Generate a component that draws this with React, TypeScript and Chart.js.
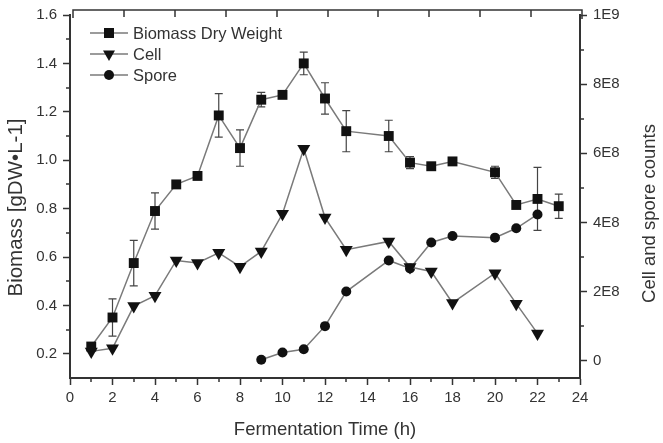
import React, { useEffect, useRef } from 'react';
import { Chart, registerables } from 'chart.js';

Chart.register(...registerables);

// ---------- data ----------
const biomassHours = [1, 2, 3, 4, 5, 6, 7, 8, 9, 10, 11, 12, 13, 15, 16, 17, 18, 20, 21, 22, 23];
const biomass = [0.23, 0.35, 0.575, 0.79, 0.9, 0.935, 1.185, 1.05, 1.25, 1.27, 1.4, 1.255, 1.12, 1.1, 0.99, 0.975, 0.995, 0.95, 0.815, 0.84, 0.81];
const biomassErr = [0.015, 0.077, 0.094, 0.075, 0.012, 0.012, 0.09, 0.075, 0.03, 0, 0.047, 0.065, 0.085, 0.065, 0.025, 0.01, 0.015, 0.025, 0.012, 0.13, 0.05];

const cellHours = [1, 2, 3, 4, 5, 6, 7, 8, 9, 10, 11, 12, 13, 15, 16, 17, 18, 20, 21, 22];
const cell = [2.7e7, 3.6e7, 1.58e8, 1.88e8, 2.9e8, 2.83e8, 3.12e8, 2.72e8, 3.16e8, 4.25e8, 6.13e8, 4.14e8, 3.21e8, 3.45e8, 2.71e8, 2.58e8, 1.67e8, 2.53e8, 1.65e8, 7.9e7];

const sporeHours = [9, 10, 11, 12, 13, 15, 16, 17, 18, 20, 21, 22];
const spore = [3e6, 2.4e7, 3.3e7, 1.0e8, 2.0e8, 2.9e8, 2.67e8, 3.42e8, 3.61e8, 3.56e8, 3.83e8, 4.23e8];

const seriesLabels = ['Biomass Dry Weight', 'Cell', 'Spore'];

const xTicks = [0, 2, 4, 6, 8, 10, 12, 14, 16, 18, 20, 22, 24];
const xMinorTicks = [1, 3, 5, 7, 9, 11, 13, 15, 17, 19, 21, 23];
const leftTicks = [0.2, 0.4, 0.6, 0.8, 1.0, 1.2, 1.4, 1.6];
const leftMinorTicks = [0.3, 0.5, 0.7, 0.9, 1.1, 1.3, 1.5];
const rightTicks = [0, 2e8, 4e8, 6e8, 8e8, 1e9];
const rightTickLabels = ['0', '2E8', '4E8', '6E8', '8E8', '1E9'];
const rightMinorTicks = [1e8, 3e8, 5e8, 7e8, 9e8];

const xTitle = 'Fermentation Time (h)';
const leftTitle = 'Biomass [gDW\u2022L-1]';
const rightTitle = 'Cell and spore counts';

// ---------- styles ----------
const FONT = 'Arial, "Liberation Sans", sans-serif';
const TEXT = '#333333';
const AXIS = '#333333';
const LINE = '#7a7a7a';
const MARK = '#111111';

function drawMarker(ctx: CanvasRenderingContext2D, kind: string, x: number, y: number) {
  ctx.beginPath();
  if (kind === 'rect') {
    ctx.rect(x - 5, y - 5, 10, 10);
  } else if (kind === 'triangle') {
    ctx.moveTo(x - 6, y - 3.5);
    ctx.lineTo(x + 6, y - 3.5);
    ctx.lineTo(x, y + 7);
    ctx.closePath();
  } else {
    ctx.arc(x, y, 5, 0, Math.PI * 2);
  }
  ctx.fill();
}

const decorPlugin = {
  id: 'decor',
  beforeDatasetsDraw(chart: any) {
    const { ctx } = chart;
    const xs = chart.scales.x;
    const ys = chart.scales.y;
    ctx.save();
    ctx.strokeStyle = '#444444';
    ctx.lineWidth = 1.2;
    biomassHours.forEach((h, i) => {
      const e = biomassErr[i];
      if (!e) return;
      const px = xs.getPixelForValue(h);
      const t = ys.getPixelForValue(biomass[i] + e);
      const b = ys.getPixelForValue(biomass[i] - e);
      ctx.beginPath();
      ctx.moveTo(px, t);
      ctx.lineTo(px, b);
      ctx.moveTo(px - 4, t);
      ctx.lineTo(px + 4, t);
      ctx.moveTo(px - 4, b);
      ctx.lineTo(px + 4, b);
      ctx.stroke();
    });
    ctx.restore();
  },
  afterDraw(chart: any) {
    const { ctx, chartArea } = chart;
    const { left, right, top, bottom } = chartArea;
    const xs = chart.scales.x;
    const ys = chart.scales.y;
    const ys1 = chart.scales.y1;
    ctx.save();
    // minor ticks
    ctx.strokeStyle = AXIS;
    ctx.lineWidth = 1.5;
    ctx.beginPath();
    xMinorTicks.forEach((v) => {
      const px = Math.round(xs.getPixelForValue(v));
      ctx.moveTo(px, bottom);
      ctx.lineTo(px, bottom + 4);
    });
    leftMinorTicks.forEach((v) => {
      const py = Math.round(ys.getPixelForValue(v));
      ctx.moveTo(left, py);
      ctx.lineTo(left - 4, py);
    });
    rightMinorTicks.forEach((v) => {
      const py = Math.round(ys1.getPixelForValue(v));
      ctx.moveTo(right, py);
      ctx.lineTo(right + 4, py);
    });
    ctx.stroke();

    // top frame with inward ticks
    const fl = left + 3;
    const fr = right + 2;
    const ft = top - 5;
    ctx.lineWidth = 1.5;
    ctx.beginPath();
    ctx.moveTo(fl, ft + 8);
    ctx.lineTo(fl, ft);
    ctx.lineTo(fr, ft);
    ctx.lineTo(fr, top + 4);
    for (let k = 1; k < 10; k++) {
      const px = Math.round(fl + ((fr - fl) * k) / 10);
      ctx.moveTo(px, ft);
      ctx.lineTo(px, ft + 7);
    }
    ctx.stroke();

    // legend
    const kinds = ['rect', 'triangle', 'circle'];
    ctx.font = `16.5px ${FONT}`;
    ctx.textBaseline = 'middle';
    ctx.textAlign = 'left';
    seriesLabels.forEach((lab, i) => {
      const ly = top + 18 + i * 21;
      ctx.strokeStyle = LINE;
      ctx.lineWidth = 1.5;
      ctx.beginPath();
      ctx.moveTo(left + 20, ly);
      ctx.lineTo(left + 58, ly);
      ctx.stroke();
      ctx.fillStyle = MARK;
      drawMarker(ctx, kinds[i], left + 39, ly);
      ctx.fillStyle = TEXT;
      ctx.fillText(lab, left + 63, ly + 1);
    });

    // vertical axis titles
    ctx.fillStyle = TEXT;
    ctx.textAlign = 'center';
    ctx.textBaseline = 'middle';
    ctx.save();
    ctx.font = `20.5px ${FONT}`;
    ctx.translate(16, (top + bottom) / 2 + 11);
    ctx.rotate(-Math.PI / 2);
    ctx.fillText(leftTitle, 0, 0);
    ctx.restore();
    ctx.save();
    ctx.font = `18.5px ${FONT}`;
    ctx.translate(650, (top + bottom) / 2 + 17);
    ctx.rotate(-Math.PI / 2);
    ctx.fillText(rightTitle, 0, 0);
    ctx.restore();

    ctx.restore();
  },
};

export default function App() {
  const ref = useRef<HTMLCanvasElement | null>(null);

  useEffect(() => {
    if (!ref.current) return;
    const tickFont = { family: FONT, size: 15 };
    const chart = new Chart(ref.current, {
      type: 'line',
      data: {
        datasets: [
          {
            label: seriesLabels[0],
            data: biomassHours.map((h, i) => ({ x: h, y: biomass[i] })),
            yAxisID: 'y',
            borderColor: LINE,
            borderWidth: 1.5,
            backgroundColor: MARK,
            pointStyle: 'rect',
            pointRadius: 7,
            pointBorderColor: MARK,
            pointBackgroundColor: MARK,
            pointBorderWidth: 0,
            tension: 0,
          },
          {
            label: seriesLabels[1],
            data: cellHours.map((h, i) => ({ x: h, y: cell[i] })),
            yAxisID: 'y1',
            borderColor: LINE,
            borderWidth: 1.5,
            backgroundColor: MARK,
            pointStyle: 'triangle',
            pointRotation: 180,
            pointRadius: 7.5,
            pointBorderColor: MARK,
            pointBackgroundColor: MARK,
            pointBorderWidth: 0,
            tension: 0,
          },
          {
            label: seriesLabels[2],
            data: sporeHours.map((h, i) => ({ x: h, y: spore[i] })),
            yAxisID: 'y1',
            borderColor: LINE,
            borderWidth: 1.5,
            backgroundColor: MARK,
            pointStyle: 'circle',
            pointRadius: 5,
            pointBorderColor: MARK,
            pointBackgroundColor: MARK,
            pointBorderWidth: 0,
            tension: 0,
          },
        ],
      },
      options: {
        responsive: false,
        animation: false,
        devicePixelRatio: 1,
        layout: { padding: { top: 10, left: 0, right: 0, bottom: 0 } },
        plugins: {
          legend: { display: false },
          tooltip: { enabled: false },
        },
        scales: {
          x: {
            type: 'linear',
            position: 'bottom',
            min: 0,
            max: 24,
            afterBuildTicks: (s: any) => {
              s.ticks = xTicks.map((v) => ({ value: v }));
            },
            afterFit: (s: any) => {
              s.height = 65;
            },
            ticks: {
              autoSkip: false,
              maxRotation: 0,
              padding: 4,
              color: TEXT,
              font: tickFont,
              callback: (v: any) => String(v),
            },
            grid: {
              drawOnChartArea: false,
              drawTicks: true,
              tickLength: 7,
              tickColor: AXIS,
              tickWidth: 1.5,
            },
            border: { display: true, color: AXIS, width: 2 },
            title: {
              display: true,
              text: xTitle,
              color: TEXT,
              font: { family: FONT, size: 18.5 },
              padding: { top: 0, bottom: 2 },
            },
          },
          y: {
            type: 'linear',
            position: 'left',
            min: 0.1,
            max: 1.6,
            afterBuildTicks: (s: any) => {
              s.ticks = leftTicks.map((v) => ({ value: v }));
            },
            afterFit: (s: any) => {
              s.width = 70;
            },
            ticks: {
              autoSkip: false,
              padding: 6,
              color: TEXT,
              font: tickFont,
              callback: (v: any) => Number(v).toFixed(1),
            },
            grid: {
              drawOnChartArea: false,
              drawTicks: true,
              tickLength: 7,
              tickColor: AXIS,
              tickWidth: 1.5,
            },
            border: { display: true, color: AXIS, width: 2 },
          },
          y1: {
            type: 'linear',
            position: 'right',
            min: -5e7,
            max: 1e9,
            afterBuildTicks: (s: any) => {
              s.ticks = rightTicks.map((v) => ({ value: v }));
            },
            afterFit: (s: any) => {
              s.width = 83;
            },
            ticks: {
              autoSkip: false,
              padding: 6,
              color: TEXT,
              font: tickFont,
              callback: (v: any) => {
                const idx = rightTicks.indexOf(Number(v));
                return idx >= 0 ? rightTickLabels[idx] : '';
              },
            },
            grid: {
              drawOnChartArea: false,
              drawTicks: true,
              tickLength: 7,
              tickColor: AXIS,
              tickWidth: 1.5,
            },
            border: { display: true, color: AXIS, width: 2 },
          },
        },
      } as any,
      plugins: [decorPlugin],
    });
    return () => chart.destroy();
  }, []);

  return (
    <div
      style={{
        position: 'fixed',
        left: 0,
        top: 0,
        width: 663,
        height: 443,
        background: '#ffffff',
      }}
    >
      <canvas ref={ref} width={663} height={443} style={{ display: 'block' }} />
    </div>
  );
}
